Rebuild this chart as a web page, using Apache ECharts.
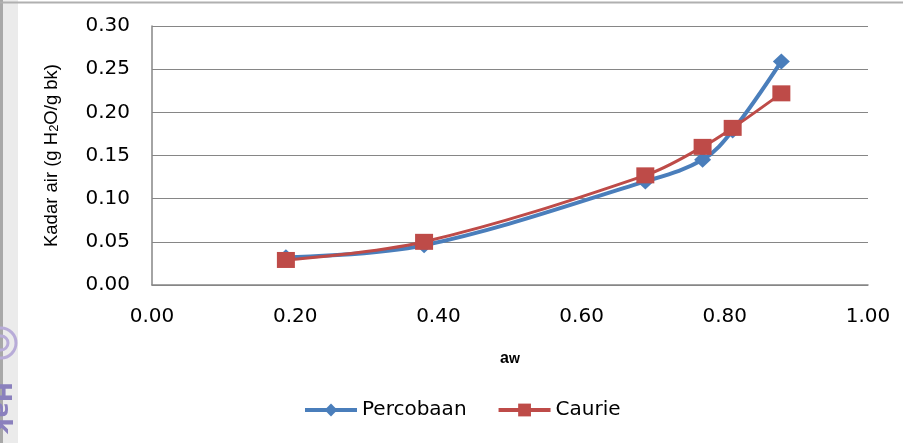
<!DOCTYPE html>
<html>
<head>
<meta charset="utf-8">
<script src="https://cdn.jsdelivr.net/npm/echarts@6/dist/echarts.min.js"></script>
<style>
html,body{margin:0;padding:0;background:#fff;}
#c{width:905px;height:443px;}
</style>
</head>
<body>
<div id="c"></div>
<script>
const seriesNames = ['Percobaan', 'Caurie'];
const awPercobaan = [0.187, 0.380, 0.689, 0.769, 0.811, 0.879];
const kadarPercobaan = [0.032, 0.046, 0.120, 0.145, 0.179, 0.259];
const awCaurie = [0.187, 0.380, 0.689, 0.769, 0.811, 0.879];
const kadarCaurie = [0.029, 0.050, 0.127, 0.160, 0.182, 0.222];
const xTicks = [0, 0.2, 0.4, 0.6, 0.8, 1.0];
const yTicks = [0, 0.05, 0.10, 0.15, 0.20, 0.25, 0.30];

const chart = echarts.init(document.getElementById('c'), null, {renderer: 'canvas'});
const tickFont = 'DejaVu Sans';
const nameFont = '"Liberation Sans", Arial, sans-serif';
chart.setOption({
  animation: false,
  backgroundColor: '#fff',
  grid: {left: 152, right: 37, top: 26, bottom: 158},
  graphic: [
    {type: 'rect', shape: {x: 0, y: 0, width: 3, height: 443}, style: {fill: '#a8a8a8'}, z: 0},
    {type: 'rect', shape: {x: 3, y: 0, width: 15, height: 443}, style: {fill: '#ebebeb'}, z: 0},
    {type: 'line', shape: {x1: 0, y1: 2.5, x2: 903, y2: 2.5}, style: {stroke: '#b0b0b0', lineWidth: 2}, z: 0},
    {type: 'circle', shape: {cx: 1, cy: 343, r: 15}, style: {fill: 'none', stroke: '#b8acd8', lineWidth: 3}, z: 1},
    {type: 'circle', shape: {cx: 1, cy: 343, r: 7}, style: {fill: 'none', stroke: '#b8acd8', lineWidth: 3}, z: 1},
    {type: 'text', x: -12, y: 382, rotation: -Math.PI / 2, style: {text: 'Hak', font: 'bold 24px DejaVu Sans', fill: '#8a80bd', textAlign: 'left', textVerticalAlign: 'bottom'}, z: 1}
  ],
  legend: {
    bottom: 18,
    left: 298,
    itemWidth: 52,
    itemHeight: 16,
    itemGap: 30,
    lineStyle: {width: 4},
    textStyle: {fontFamily: tickFont, fontSize: 20, color: '#000', padding: [0, 0, 0, 0]},
    data: seriesNames
  },
  xAxis: {
    type: 'value', min: 0, max: 1, interval: 0.2,
    name: '{a|a}{w|w}',
    nameLocation: 'middle', nameGap: 66,
    nameTextStyle: {rich: {a: {fontFamily: nameFont, fontWeight: 'bold', fontSize: 16, color: '#000'}, w: {fontFamily: nameFont, fontWeight: 'bold', fontSize: 14, color: '#000'}}},
    axisLine: {show: true, onZero: false, lineStyle: {color: '#868686', width: 1.5}},
    axisTick: {show: false},
    splitLine: {show: false},
    axisLabel: {margin: 22, fontFamily: tickFont, fontSize: 20, color: '#000', formatter: v => v.toFixed(2)}
  },
  yAxis: {
    type: 'value', min: 0, max: 0.3, interval: 0.05,
    name: '{a|Kadar air (g H}{s|2}{a|O/g bk)}',
    nameLocation: 'middle', nameGap: 91, nameRotate: 90,
    nameTextStyle: {rich: {a: {fontFamily: nameFont, fontSize: 18.5, color: '#000'}, s: {fontFamily: nameFont, fontSize: 13, color: '#000', verticalAlign: 'bottom'}}},
    axisLine: {show: true, lineStyle: {color: '#868686', width: 1.5}},
    axisTick: {show: false},
    splitLine: {show: true, lineStyle: {color: '#868686', width: 1}},
    axisLabel: {margin: 22, fontFamily: tickFont, fontSize: 20, color: '#000', formatter: v => v.toFixed(2)}
  },
  series: [
    {
      name: seriesNames[0], type: 'line', smooth: 0.35,
      data: awPercobaan.map((x, i) => [x, kadarPercobaan[i]]),
      symbol: 'diamond', symbolSize: [17, 16],
      itemStyle: {color: '#4A7EBB'},
      lineStyle: {color: '#4A7EBB', width: 4},
      z: 2
    },
    {
      name: seriesNames[1], type: 'line', smooth: 0.35,
      data: awCaurie.map((x, i) => [x, kadarCaurie[i]]),
      symbol: 'rect', symbolSize: [18, 16],
      itemStyle: {color: '#BE4B48'},
      lineStyle: {color: '#BE4B48', width: 3},
      z: 3
    }
  ]
});
</script>
</body>
</html>
